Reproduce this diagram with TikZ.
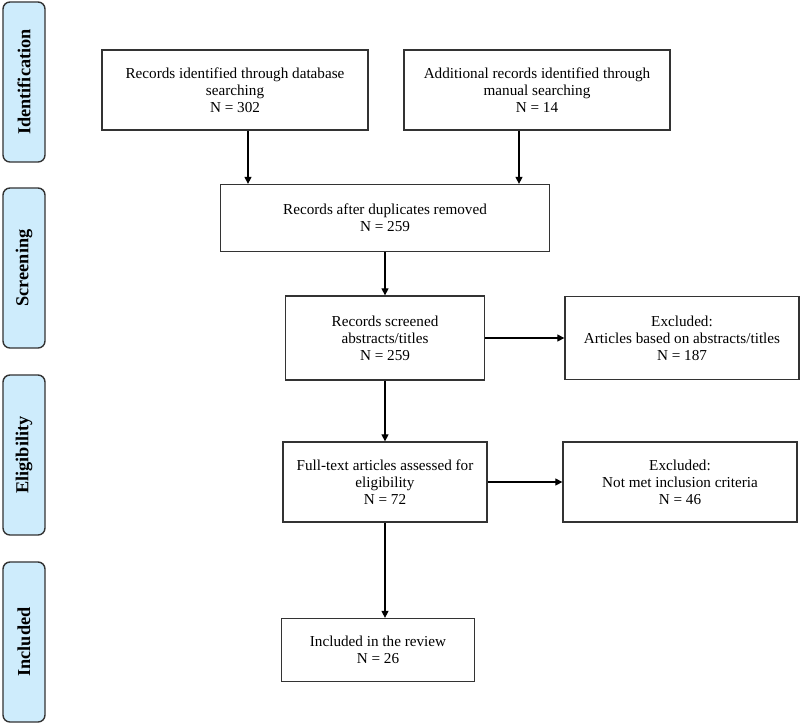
\documentclass[tikz,border=0pt]{standalone}
\usepackage{fontspec}
\setmainfont{Liberation Serif}
\usetikzlibrary{arrows.meta}
\definecolor{tabblue}{RGB}{206,236,252}

\begin{document}
\begin{tikzpicture}[x=0.025cm,y=-0.025cm]
            \tikzset{
            pr tab/.style={draw=black!80,fill=tabblue,rounded corners=5pt,line width=1pt,rotate=90,minimum width=4cm,minimum height=1.05cm,inner sep=0,font=\bfseries\fontsize{13}{15}\selectfont},
            pr box/.style={draw=black!80,line width=0.9pt,align=center,inner sep=0,font=\fontsize{10.8}{12.2}\selectfont},
            pr edge/.style={-{Triangle[length=5pt,width=5pt]},line width=0.9pt}
            }
            \useasboundingbox (0,0) rectangle (800,726);
            % stage tabs
            \node[pr tab] (tid) at (24,82) {Identification};
            \node[pr tab] (tsc) at (24,268) {Screening};
            \node[pr tab] (tel) at (24,455) {Eligibility};
            \node[pr tab] (tin) at (24,642) {Included};
            % boxes
            \node[pr box,minimum width=6.65cm,minimum height=2cm] (db) at (235,90) {Records identified through database\\searching\\N = 302};
            \node[pr box,minimum width=6.65cm,minimum height=2cm] (man) at (537,90) {Additional records identified through\\manual searching\\N = 14};
            \node[pr box,minimum width=8.225cm,minimum height=1.675cm] (dup) at (385,218) {Records after duplicates removed\\N = 259};
            \node[pr box,minimum width=4.975cm,minimum height=2.1cm] (scr) at (385,338) {Records screened\\abstracts/titles\\N = 259};
            \node[pr box,minimum width=5.85cm,minimum height=2.075cm] (ex1) at (682,338) {Excluded:\\Articles based on abstracts/titles\\N = 187};
            \node[pr box,minimum width=5.1cm,minimum height=2cm] (ft) at (385,482) {Full-text articles assessed for\\eligibility\\N = 72};
            \node[pr box,minimum width=5.85cm,minimum height=2cm] (ex2) at (680,482) {Excluded:\\Not met inclusion criteria\\N = 46};
            \node[pr box,minimum width=4.825cm,minimum height=1.575cm] (inc) at (378,650) {Included in the review\\N = 26};
            % arrow feet
            \coordinate (dbf) at ([xshift=0.325cm]db.south);
            \coordinate (dbh) at (dbf |- dup.north);
            \coordinate (manf) at ([xshift=-0.45cm]man.south);
            \coordinate (manh) at (manf |- dup.north);
            \coordinate (inch) at (ft.south |- inc.north);
            
            \draw[pr edge] (dbf) -- (dbh);
            \draw[pr edge] (manf) -- (manh);
            \draw[pr edge] (dup.south) -- (scr.north);
            \draw[pr edge] (scr) -- (ex1);
            \draw[pr edge] (scr.south) -- (ft.north);
            \draw[pr edge] (ft) -- (ex2);
            \draw[pr edge] (ft.south) -- (inch);
        \end{tikzpicture}
\end{document}
